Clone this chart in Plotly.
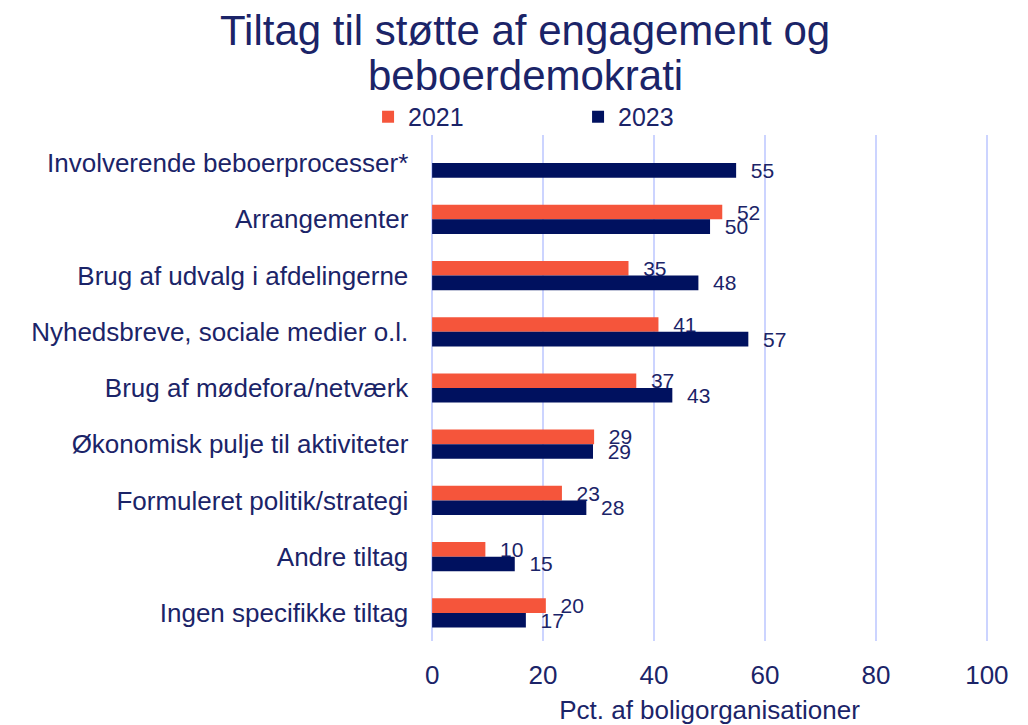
import plotly.graph_objects as go

categories = [
    "Involverende beboerprocesser*",
    "Arrangementer",
    "Brug af udvalg i afdelingerne",
    "Nyhedsbreve, sociale medier o.l.",
    "Brug af mødefora/netværk",
    "Økonomisk pulje til aktiviteter",
    "Formuleret politik/strategi",
    "Andre tiltag",
    "Ingen specifikke tiltag",
]
values_2021 = [None, 52.3, 35.4, 40.8, 36.8, 29.2, 23.4, 9.6, 20.5]
values_2023 = [54.8, 50.1, 48.0, 57.0, 43.3, 29.0, 27.8, 14.9, 16.9]
labels_2021 = ["", "52", "35", "41", "37", "29", "23", "10", "20"]
labels_2023 = ["55", "50", "48", "57", "43", "29", "28", "15", "17"]
x_ticks = [0, 20, 40, 60, 80, 100]
title_lines = ["Tiltag til støtte af engagement og", "beboerdemokrati"]

ORANGE = "#F5553B"
NAVY = "#00115F"
TEXT = "#1B2468"
GRID = "#CCD4FF"
FONT = "Liberation Sans, Arial, sans-serif"

fig = go.Figure()
fig.add_trace(go.Bar(
    name="2021", y=categories, x=values_2021, orientation="h",
    marker=dict(color=ORANGE, line=dict(width=0)),
    text=["  " + t if t else "" for t in labels_2021], textposition="outside",
    constraintext="none",
    textfont=dict(size=21, color=TEXT, family=FONT), cliponaxis=False,
))
fig.add_trace(go.Bar(
    name="2023", y=categories, x=values_2023, orientation="h",
    marker=dict(color=NAVY, line=dict(width=0)),
    text=["  " + t for t in labels_2023], textposition="outside",
    constraintext="none",
    textfont=dict(size=21, color=TEXT, family=FONT), cliponaxis=False,
))

# two title lines placed separately for tight line spacing
for line, ypos in zip(title_lines, [1.207, 1.118]):
    fig.add_annotation(
        text=line, xref="paper", yref="paper", x=0.1688, y=ypos,
        xanchor="center", yanchor="middle", showarrow=False,
        font=dict(size=42, color=TEXT, family=FONT),
    )

fig.update_layout(
    width=1020, height=717,
    paper_bgcolor="white", plot_bgcolor="white",
    font=dict(family=FONT, color=TEXT, size=26),
    margin=dict(l=423, r=40, t=127, b=84, autoexpand=False),
    barmode="group", bargap=0.48, bargroupgap=0,
    showlegend=True,
    legend=dict(
        orientation="h", x=-0.113, xanchor="left",
        y=1.0356, yanchor="middle", font=dict(size=25, color=TEXT),
        entrywidth=165, traceorder="normal", bgcolor="rgba(0,0,0,0)",
    ),
    xaxis=dict(
        range=[-0.2, 100.2], tickvals=x_ticks, showgrid=True, gridcolor=GRID, gridwidth=2,
        zeroline=False, showline=False, ticks="", automargin=False,
        tickfont=dict(size=26, color=TEXT), ticklabelstandoff=16,
        title=dict(text="Pct. af boligorganisationer", font=dict(size=26, color=TEXT), standoff=12),
    ),
    yaxis=dict(
        autorange="reversed", showgrid=False, zeroline=False, showline=False,
        ticks="", ticksuffix="   ", tickfont=dict(size=26, color=TEXT), automargin=False,
    ),
)

fig.write_html("out.html")
